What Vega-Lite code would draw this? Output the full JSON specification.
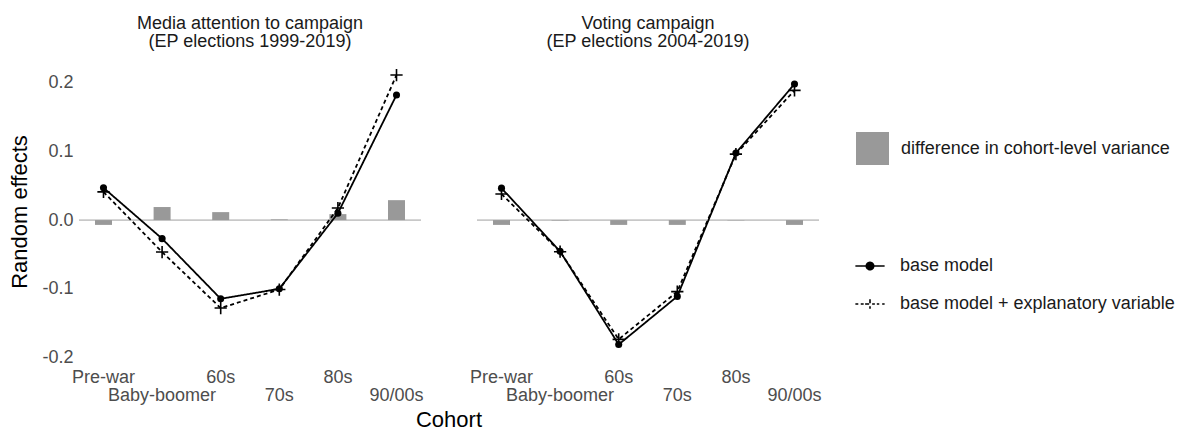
{
  "$schema": "https://vega.github.io/schema/vega-lite/v6.json",
  "background": "white",
  "padding": {"left": 8, "top": 15, "right": 5, "bottom": 0},
  "config": {
    "font": "Liberation Sans",
    "view": {"stroke": null},
    "axis": {"grid": false, "domain": false, "ticks": false}
  },
  "data": {
    "values": [
      {"panel": "Media attention to campaign", "cohort": "Pre-war", "series": "base model + explanatory variable", "value": 0.041},
      {"panel": "Media attention to campaign", "cohort": "Baby-boomer", "series": "base model + explanatory variable", "value": -0.0465},
      {"panel": "Media attention to campaign", "cohort": "60s", "series": "base model + explanatory variable", "value": -0.128},
      {"panel": "Media attention to campaign", "cohort": "70s", "series": "base model + explanatory variable", "value": -0.101},
      {"panel": "Media attention to campaign", "cohort": "80s", "series": "base model + explanatory variable", "value": 0.0175},
      {"panel": "Media attention to campaign", "cohort": "90/00s", "series": "base model + explanatory variable", "value": 0.211},
      {"panel": "Voting campaign", "cohort": "Pre-war", "series": "base model + explanatory variable", "value": 0.038},
      {"panel": "Voting campaign", "cohort": "Baby-boomer", "series": "base model + explanatory variable", "value": -0.046},
      {"panel": "Voting campaign", "cohort": "60s", "series": "base model + explanatory variable", "value": -0.1735},
      {"panel": "Voting campaign", "cohort": "70s", "series": "base model + explanatory variable", "value": -0.104},
      {"panel": "Voting campaign", "cohort": "80s", "series": "base model + explanatory variable", "value": 0.096},
      {"panel": "Voting campaign", "cohort": "90/00s", "series": "base model + explanatory variable", "value": 0.1887},
      {"panel": "Media attention to campaign", "cohort": "Pre-war", "series": "base model", "value": 0.047},
      {"panel": "Media attention to campaign", "cohort": "Baby-boomer", "series": "base model", "value": -0.027},
      {"panel": "Media attention to campaign", "cohort": "60s", "series": "base model", "value": -0.1145},
      {"panel": "Media attention to campaign", "cohort": "70s", "series": "base model", "value": -0.1},
      {"panel": "Media attention to campaign", "cohort": "80s", "series": "base model", "value": 0.01},
      {"panel": "Media attention to campaign", "cohort": "90/00s", "series": "base model", "value": 0.182},
      {"panel": "Voting campaign", "cohort": "Pre-war", "series": "base model", "value": 0.0465},
      {"panel": "Voting campaign", "cohort": "Baby-boomer", "series": "base model", "value": -0.0455},
      {"panel": "Voting campaign", "cohort": "60s", "series": "base model", "value": -0.181},
      {"panel": "Voting campaign", "cohort": "70s", "series": "base model", "value": -0.111},
      {"panel": "Voting campaign", "cohort": "80s", "series": "base model", "value": 0.0975},
      {"panel": "Voting campaign", "cohort": "90/00s", "series": "base model", "value": 0.198},
      {"panel": "Media attention to campaign", "cohort": "Pre-war", "series": "difference in cohort-level variance", "value": -0.007},
      {"panel": "Media attention to campaign", "cohort": "Baby-boomer", "series": "difference in cohort-level variance", "value": 0.019},
      {"panel": "Media attention to campaign", "cohort": "60s", "series": "difference in cohort-level variance", "value": 0.0116},
      {"panel": "Media attention to campaign", "cohort": "70s", "series": "difference in cohort-level variance", "value": 0.001},
      {"panel": "Media attention to campaign", "cohort": "80s", "series": "difference in cohort-level variance", "value": 0.0087},
      {"panel": "Media attention to campaign", "cohort": "90/00s", "series": "difference in cohort-level variance", "value": 0.029},
      {"panel": "Voting campaign", "cohort": "Pre-war", "series": "difference in cohort-level variance", "value": -0.007},
      {"panel": "Voting campaign", "cohort": "Baby-boomer", "series": "difference in cohort-level variance", "value": -0.0007},
      {"panel": "Voting campaign", "cohort": "60s", "series": "difference in cohort-level variance", "value": -0.007},
      {"panel": "Voting campaign", "cohort": "70s", "series": "difference in cohort-level variance", "value": -0.007},
      {"panel": "Voting campaign", "cohort": "80s", "series": "difference in cohort-level variance", "value": -0.0005},
      {"panel": "Voting campaign", "cohort": "90/00s", "series": "difference in cohort-level variance", "value": -0.007}
    ]
  },
  "spacing": 54,
  "facet": {
    "column": {
      "field": "panel",
      "type": "nominal",
      "title": "Cohort",
      "header": {
        "labelOrient": "top",
        "titleOrient": "bottom",
        "labelExpr": "datum.value == 'Voting campaign' ? ['Voting campaign', '(EP elections 2004-2019)'] : ['Media attention to campaign', '(EP elections 1999-2019)']",
        "labelFontSize": 18,
        "labelColor": "#1a1a1a",
        "labelLineHeight": 18,
        "labelPadding": 11,
        "titleFontSize": 22,
        "titleFontWeight": "normal",
        "titleColor": "#000000",
        "titlePadding": -5
      }
    }
  },
  "spec": {
    "width": 342,
    "height": 299,
    "layer": [
      {
        "transform": [
          {"filter": "datum.series == 'difference in cohort-level variance'"},
          {"aggregate": [{"op": "count", "as": "n"}], "groupby": ["panel"]}
        ],
        "mark": {"type": "rule", "color": "#c8c8c8", "strokeWidth": 1.6},
        "encoding": {"y": {"datum": 0, "type": "quantitative"}}
      },
      {
        "transform": [{"filter": "datum.series == 'difference in cohort-level variance'"}],
        "mark": {"type": "bar"},
        "encoding": {
          "x": {
            "field": "cohort",
            "type": "nominal",
            "sort": ["Pre-war", "Baby-boomer", "60s", "70s", "80s", "90/00s"],
            "scale": {"domain": ["Pre-war", "Baby-boomer", "60s", "70s", "80s", "90/00s"], "paddingInner": 0.71, "paddingOuter": 0.273},
            "axis": {
              "title": null,
              "labelAngle": 0,
              "labelFontSize": 18,
              "labelColor": "#4d4d4d",
              "labelLineHeight": 18.5,
              "labelPadding": 7,
              "labelOverlap": false,
              "labelBound": false,
              "labelFlush": false,
              "labelExpr": "indexof(['Baby-boomer', '70s', '90/00s'], datum.value) >= 0 ? ['', datum.label] : datum.label"
            }
          },
          "y": {
            "field": "value",
            "type": "quantitative",
            "scale": {"domain": [-0.205, 0.23], "nice": false, "zero": false},
            "axis": {
              "title": "Random effects",
              "titleFontSize": 22,
              "titleFontWeight": "normal",
              "titleColor": "#000000",
              "titlePadding": 10,
              "values": [-0.2, -0.1, 0, 0.1, 0.2],
              "labelExpr": "datum.value < 0 ? '-' + format(-datum.value, '.1f') : format(datum.value, '.1f')",
              "labelFontSize": 18,
              "labelColor": "#4d4d4d",
              "labelPadding": 5
            }
          },
          "y2": {"datum": 0},
          "fill": {
            "field": "series",
            "type": "nominal",
            "scale": {"domain": ["difference in cohort-level variance"], "range": ["#999999"]},
            "legend": {
              "title": null,
              "orient": "none",
              "legendX": 777,
              "legendY": 70,
              "symbolType": "square",
              "symbolSize": 1089,
              "symbolStrokeWidth": 0,
              "symbolOpacity": 1,
              "labelFontSize": 18,
              "labelColor": "#1a1a1a",
              "labelOffset": 12,
              "labelLimit": 0
            }
          }
        }
      },
      {
        "transform": [{"filter": "datum.series != 'difference in cohort-level variance'"}],
        "mark": {"type": "line", "color": "black", "strokeWidth": 1.8},
        "encoding": {
          "x": {"field": "cohort", "type": "nominal", "sort": ["Pre-war", "Baby-boomer", "60s", "70s", "80s", "90/00s"]},
          "y": {"field": "value", "type": "quantitative"},
          "strokeDash": {
            "field": "series",
            "type": "nominal",
            "sort": null,
            "scale": {"domain": ["base model", "base model + explanatory variable"], "range": [[1, 0], [4, 3]]},
            "legend": {
              "title": null,
              "orient": "none",
              "legendX": 780,
              "legendY": 193,
              "symbolSize": 380,
              "symbolStrokeWidth": 1.6,
              "symbolStrokeColor": "black",
              "symbolFillColor": "black",
              "labelFontSize": 18,
              "labelColor": "#1a1a1a",
              "labelOffset": 19,
              "labelLimit": 0,
              "rowPadding": 18,
              "encoding": {
                "symbols": {
                  "shape": {
                    "condition": {"test": "datum.value === 'base model'", "value": "M-1.5,0L1.5,0M0.38,0A0.38,0.38,0,1,1,-0.38,0A0.38,0.38,0,1,1,0.38,0Z"},
                    "value": "M-1.5,0L-1.2,0M-0.95,0L-0.65,0M-0.5,0L0.5,0M0,-0.5L0,0.5M0.7,0L0.95,0M1.25,0L1.5,0"
                  },
                  "strokeDash": {"value": [1, 0]},
                  "fill": {"value": "black"},
                  "stroke": {"value": "black"}
                }
              }
            }
          }
        }
      },
      {
        "transform": [{"filter": "datum.series == 'base model + explanatory variable'"}],
        "mark": {"type": "point", "shape": "M-1,0L1,0M0,-1L0,1", "filled": false, "stroke": "black", "strokeWidth": 1.6, "size": 150, "opacity": 1},
        "encoding": {
          "x": {"field": "cohort", "type": "nominal", "sort": ["Pre-war", "Baby-boomer", "60s", "70s", "80s", "90/00s"]},
          "y": {"field": "value", "type": "quantitative"}
        }
      },
      {
        "transform": [{"filter": "datum.series == 'base model'"}],
        "mark": {"type": "point", "shape": "circle", "filled": true, "color": "black", "size": 50, "opacity": 1},
        "encoding": {
          "x": {"field": "cohort", "type": "nominal", "sort": ["Pre-war", "Baby-boomer", "60s", "70s", "80s", "90/00s"]},
          "y": {"field": "value", "type": "quantitative"}
        }
      }
    ]
  }
}
